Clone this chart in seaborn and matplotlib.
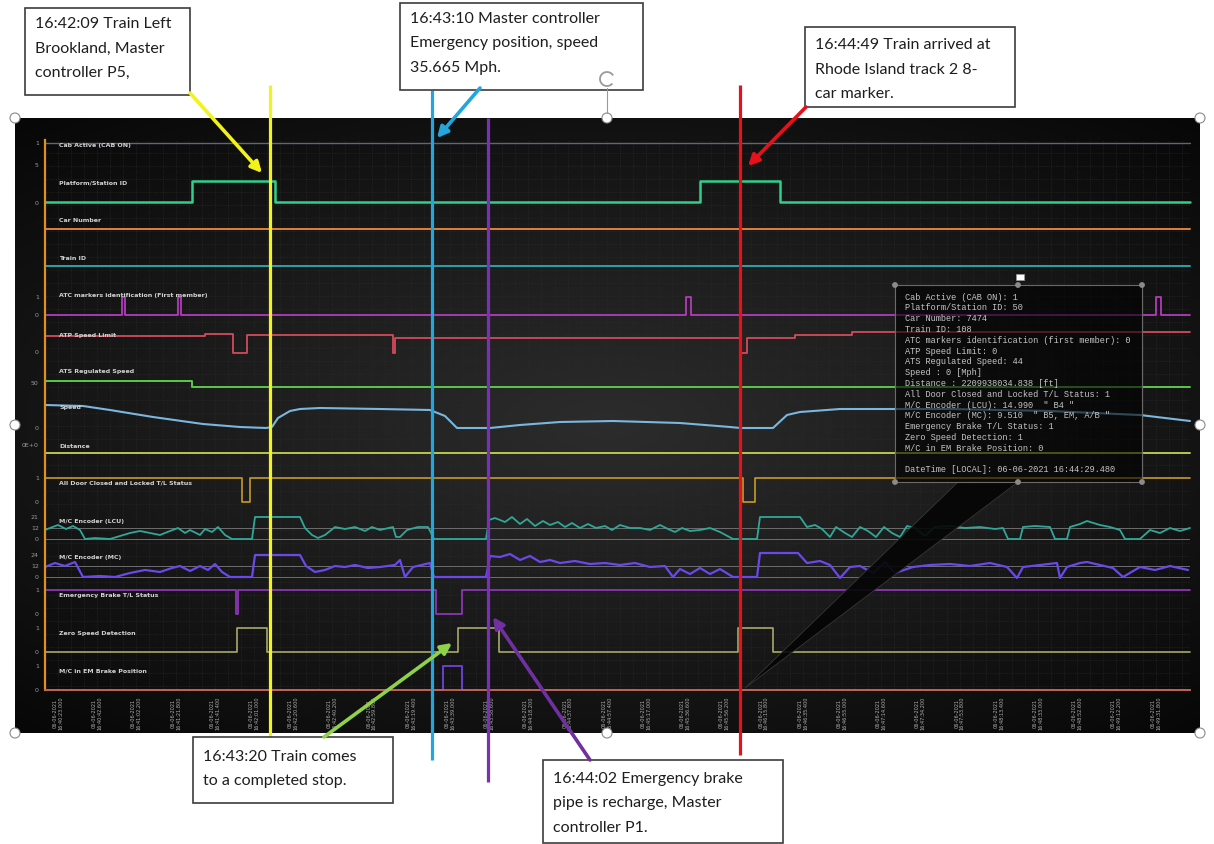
import datetime as dt
import numpy as np
import matplotlib
matplotlib.use('Agg')
import matplotlib.pyplot as plt
import matplotlib.transforms as mtransforms
from matplotlib.colors import LinearSegmentedColormap
from matplotlib.patches import Rectangle, Circle, Polygon, Arc
import seaborn as sns

# ---------------- data: time in seconds after 16:40:16.5 on 06-06-2021 ----------------
t_end = 572.5
start_clock = dt.datetime(2021, 6, 6, 16, 40, 16, 500000)

cab_active_t = [0, t_end]
cab_active_v = [1, 1]
platform_t = [0, 73.5, 115, 327.5, 367.5, t_end]
platform_v = [0, 50, 0, 50, 0, 0]
car_number_t = [0, t_end]
car_number_v = [7474, 7474]
train_id_t = [0, t_end]
train_id_v = [108, 108]
atc_t = [0, 38.5, 40, 66.5, 68, 320.5, 323, 555.5, 558, t_end]
atc_v = [0, 1, 0, 1, 0, 1, 0, 1, 0, 0]
atp_t = [0, 80, 94, 101, 174, 175, 347.5, 351, 375, 403.5, t_end]
atp_v = [45, 50, 0, 48, 0, 40, 0, 40, 48, 55, 55]
ats_t = [0, 73.5, t_end]
ats_v = [50, 44, 44]
speed_t = [0, 19, 32.5, 54, 79, 97.5, 110.5, 113.5, 116.5, 122.5, 127.5, 137.5, 167.5,
           192.5, 200, 206, 222.5, 237.5, 257.5, 284, 317.5, 342.5, 347.5, 364, 371,
           377.5, 397.5, 452.5, 502.5, 547.5, 572.5]
speed_v = [46, 44, 36, 22, 8, 2, 0, 2, 20, 34, 38, 40, 38,
           36, 24, 0, 0, 6, 12, 14, 10, 2, 0, 0, 26,
           32, 38, 38, 34, 26, 14]
distance_t = [0, t_end]
distance_v = [2209938034.8, 2209938034.8]
door_t = [0, 98.5, 102.5, 349, 355, t_end]
door_v = [1, 0, 1, 0, 1, 1]
lcu_t = [0, 2.5, 6.5, 10.5, 14, 17.5, 20, 25, 32.5, 37.5, 42.5, 47.5, 52.5, 57.5, 62.5,
         66.5, 70, 72.5, 77.5, 80, 83.5, 86.5, 90, 93.5, 103.5, 105, 127.5, 130, 133.5,
         136.5, 140, 145, 150, 155, 160, 163.5, 167.5, 174, 175.5, 177.5, 181, 186.5,
         191.5, 194.5, 220.5, 222, 225, 230, 233.5, 237.5, 241, 245, 249, 252.5, 256.5,
         260, 263.5, 267.5, 271.5, 275.5, 280, 283.5, 287.5, 292.5, 297.5, 302.5, 307.5,
         311.5, 315, 318.5, 322.5, 327.5, 332.5, 337.5, 344, 356, 357.5, 377.5, 381, 385,
         388.5, 392.5, 395.5, 400, 403.5, 407.5, 411.5, 415.5, 419.5, 423.5, 427.5, 431,
         435, 440, 445, 452.5, 460, 467.5, 475, 479, 481.5, 487.5, 489, 495, 502.5, 505,
         511, 512.5, 517.5, 521, 527.5, 532.5, 537.5, 540, 547.5, 552.5, 557.5, 562.5,
         567.5, 572.5]
lcu_v = [10, 12, 15, 11, 14, 10, 1, 2, 1, 4, 7, 9, 7, 5, 9,
         12, 7, 10, 5, 11, 8, 13, 5, 1, 1, 23, 23, 12, 5,
         2, 5, 13, 11, 13, 9, 13, 10, 13, 3, 3, 10, 13,
         13, 1, 1, 20, 22, 18, 23, 16, 21, 14, 19, 15, 18,
         13, 17, 12, 16, 12, 14, 10, 15, 12, 12, 10, 15,
         11, 8, 12, 9, 10, 12, 8, 1, 1, 23, 23, 13, 15,
         11, 3, 13, 7, 3, 13, 9, 3, 13, 7, 3, 14,
         12, 4, 13, 14, 12, 13, 11, 12, 1, 1, 13, 14, 13, 1,
         1, 13, 16, 19, 15, 13, 10, 1, 1, 10, 7, 12,
         9, 12]
mc_t = [0, 5, 10, 15, 19, 27.5, 35, 42.5, 50, 57.5, 63.5, 67.5, 72.5, 77.5, 81.5, 85,
        88.5, 92.5, 103.5, 105, 127.5, 130.5, 135, 140, 145, 150, 155, 161.5, 167.5, 175,
        177.5, 180, 184, 192.5, 194.5, 220.5, 222.5, 227.5, 232.5, 237.5, 242.5, 247.5,
        252.5, 257.5, 265, 272.5, 280, 287.5, 295, 302.5, 310, 314, 317.5, 322.5, 327.5,
        332.5, 337.5, 344, 356, 357.5, 376.5, 381, 387.5, 392.5, 397.5, 402.5, 407.5, 414,
        420, 425, 434, 442.5, 452.5, 462.5, 472.5, 481, 486, 489, 497.5, 506, 507.5, 511,
        517.5, 521, 527.5, 534, 539, 547.5, 555, 562.5, 571.5]
mc_v = [11, 15, 12, 16, 1, 2, 1, 5, 8, 6, 10, 12, 7, 12, 8, 14,
        6, 1, 1, 23, 23, 12, 6, 8, 12, 11, 13, 10, 11, 13,
        18, 1, 11, 15, 1, 1, 22, 21, 24, 18, 22, 16,
        18, 15, 17, 14, 15, 13, 15, 11, 12, 1, 9, 4, 10,
        4, 9, 1, 1, 25, 25, 15, 17, 13, 0, 11, 12, 5,
        16, 5, 11, 13, 14, 12, 15, 11, 0, 11, 13, 15, 0, 11,
        15, 16, 13, 10, 1, 11, 8, 12, 8]
eb_t = [0, 95.5, 96.5, 195.5, 208.5, t_end]
eb_v = [1, 0, 1, 0, 1, 1]
zero_t = [0, 96, 111, 206.5, 227, 346.5, 364, t_end]
zero_v = [0, 1, 0, 1, 0, 1, 0, 0]
em_t = [0, 199, 208.5, t_end]
em_v = [0, 1, 0, 0]

encoder_ref_lcu = [1, 12]
encoder_ref_mc = [1, 12]

track_names = ['Cab Active (CAB ON)', 'Platform/Station ID', 'Car Number', 'Train ID',
               'ATC markers identification (First member)', 'ATP Speed Limit',
               'ATS Regulated Speed', 'Speed', 'Distance',
               'All Door Closed and Locked T/L Status', 'M/C Encoder (LCU)',
               'M/C Encoder (MC)', 'Emergency Brake T/L Status', 'Zero Speed Detection',
               'M/C in EM Brake Position']

left_tick_labels = ['1', '5', '0', '1', '0', '0', '50', '0', '0E+0', '1', '0',
                    '21', '12', '0', '24', '12', '0', '1', '0', '1', '0', '1', '0']

# annotation events (time, text)
event_times = [112.5, 193.5, 221.5, 347.5]
event_texts = ['16:42:09 Train Left\nBrookland, Master\ncontroller P5,',
               '16:43:10 Master controller\nEmergency position, speed\n35.665 Mph.',
               '16:44:02 Emergency brake\npipe is recharge, Master\ncontroller P1.',
               '16:44:49 Train arrived at\nRhode Island track 2 8-\ncar marker.']
stop_text = '16:43:20 Train comes\nto a completed stop.'

tooltip_lines = ['Cab Active (CAB ON): 1', 'Platform/Station ID: 50', 'Car Number: 7474',
                 'Train ID: 108', 'ATC markers identification (first member): 0',
                 'ATP Speed Limit: 0', 'ATS Regulated Speed: 44', 'Speed : 0 [Mph]',
                 'Distance : 2209938034.838 [ft]',
                 'All Door Closed and Locked T/L Status: 1',
                 'M/C Encoder (LCU): 14.990  " B4 "',
                 'M/C Encoder (MC): 9.510  " B5, EM, A/B "',
                 'Emergency Brake T/L Status: 1', 'Zero Speed Detection: 1',
                 'M/C in EM Brake Position: 0', '',
                 'DateTime [LOCAL]: 06-06-2021 16:44:29.480']

# ---------------- figure ----------------
sns.set_theme(style='dark')
plt.rcParams['font.family'] = ['Lato', 'DejaVu Sans']

W, H = 1214, 844
fig = plt.figure(figsize=(W / 100, H / 100), dpi=100)
fig.patch.set_facecolor('white')


def box(x0, y0, x1, y1):
    return [x0 / W, 1 - y1 / H, (x1 - x0) / W, (y1 - y0) / H]


# dark panel with soft glow
bg = fig.add_axes(box(15, 118, 1200, 733), zorder=0)
yy, xx = np.mgrid[-1:1:200j, -1:1:300j]
glow = 1 - np.clip(np.sqrt(0.8 * xx ** 2 + yy ** 2), 0, 1.35) / 1.35
panel_cmap = LinearSegmentedColormap.from_list('panel', ['#070707', '#1a1a1a', '#2c2c2c'])
bg.imshow(glow, cmap=panel_cmap, aspect='auto', extent=[0, 1, 0, 1])
bg.set_axis_off()

ax = fig.add_axes(box(45, 140, 1190, 690), zorder=1)
ax.patch.set_alpha(0)

# track layout: data, baseline row, px per unit, reference value, colour, width, step
tracks = [
    (cab_active_t, cab_active_v, 143, 0, 1, '#566a7c', 1.0, True),
    (platform_t, platform_v, 202, 0.42, 0, '#2fd08c', 1.8, True),
    (car_number_t, car_number_v, 229, 0, 7474, '#e0823a', 1.4, True),
    (train_id_t, train_id_v, 266, 0, 108, '#2aa2aa', 1.4, True),
    (atc_t, atc_v, 315, 18, 0, '#b23cba', 1.3, True),
    (atp_t, atp_v, 353, 0.378, 0, '#d44a5a', 1.3, True),
    (ats_t, ats_v, 431, 1.0, 0, '#5ac84a', 1.4, True),
    (speed_t, speed_v, 428, 0.5, 0, '#7ab6de', 1.5, False),
    (distance_t, distance_v, 453, 0, distance_v[0], '#b9c84a', 1.4, True),
    (door_t, door_v, 502, 24, 0, '#c89a2a', 1.2, True),
    (lcu_t, lcu_v, 540, 1.0, 0, '#2fa898', 1.3, False),
    (mc_t, mc_v, 578, 1.0, 0, '#6a48ea', 1.6, False),
    (eb_t, eb_v, 614, 24, 0, '#8a36b4', 1.3, True),
    (zero_t, zero_v, 652, 24, 0, '#a8aa6a', 1.2, True),
    (em_t, em_v, 690, 24, 0, '#6a40d2', 1.4, True),
]
label_rows = [146, 183, 220, 258, 296, 335, 371, 407, 447, 483, 521, 558, 596, 634, 671]
left_tick_rows = [143, 165, 203, 297, 315, 352, 383, 428, 445, 478, 502,
                  517, 528, 539, 555, 566, 577, 590, 614, 628, 652, 666, 690]

for ref_v in encoder_ref_lcu:
    ax.axhline(540 - ref_v, color='#6e6e6e', lw=0.7, zorder=1.5)
for ref_v in encoder_ref_mc:
    ax.axhline(578 - ref_v, color='#6e6e6e', lw=0.7, zorder=1.5)

for t, v, base, scale, vref, color, lw, step in tracks:
    rows = base - scale * (np.asarray(v, float) - vref)
    sns.lineplot(x=np.asarray(t, float), y=rows, ax=ax, color=color, linewidth=lw,
                 estimator=None, sort=False,
                 drawstyle='steps-post' if step else 'default', zorder=2, clip_on=False)

ax.set_xlim(0, t_end)
ax.set_ylim(690, 140)

tick_step = 19.6
tick_t = np.arange(6.5, t_end, tick_step)
tick_labels = [(start_clock + dt.timedelta(seconds=float(s))).strftime('%d-%m-%Y\n%H:%M:%S.%f')[:-3]
               for s in tick_t]
ax.set_xticks(tick_t, tick_labels, rotation=90, fontsize=3.6, color='#b0b0b0',
              family='DejaVu Sans')
minor_t = np.arange(6.5 - tick_step, t_end, tick_step / 3)
ax.set_xticks(minor_t[minor_t >= 0], minor=True)
ax.set_yticks(left_tick_rows, left_tick_labels, fontsize=4.5, color='#9a9a9a',
              family='DejaVu Sans')
ax.set_yticks(np.arange(153, 690, 13), minor=True)
ax.tick_params(axis='x', which='both', direction='inout', length=3, width=0.6,
               color='#d9b4a4', pad=3)
ax.tick_params(axis='y', which='major', direction='out', length=3, width=0.8,
               color='#e0901e', pad=1.5)
ax.tick_params(axis='y', which='minor', length=0)
ax.grid(False)
ax.xaxis.grid(True, which='both', color='#2b2b2b', lw=0.5, ls=(0, (1, 1.5)))
ax.yaxis.grid(True, which='minor', color='#2b2b2b', lw=0.5, ls=(0, (1, 1.5)))
ax.set_xlabel('')
ax.set_ylabel('')
for side in ['top', 'right']:
    ax.spines[side].set_visible(False)
ax.spines['left'].set_color('#e0901e')
ax.spines['left'].set_linewidth(1.6)
ax.spines['bottom'].set_color('#c8644a')
ax.spines['bottom'].set_linewidth(1.3)

# ---------------- overlay: labels, tooltip, annotations ----------------
ov = fig.add_axes([0, 0, 1, 1], zorder=3)
ov.patch.set_alpha(0)
ov.set_xlim(0, W)
ov.set_ylim(H, 0)
ov.set_axis_off()

for name, row in zip(track_names, label_rows):
    ov.text(59, row, name, fontsize=4.5, fontweight='bold', color='#d2d2d2',
            va='center', ha='left', family='DejaVu Sans')

# tooltip
ov.add_patch(Polygon([(958, 482), (1018, 482), (745, 688)], closed=True,
                     facecolor='#050505', edgecolor='#3a3a3a', lw=0.6, alpha=0.9, zorder=4))
ov.add_patch(Rectangle((895, 285), 247, 197, facecolor='#000000', alpha=0.6,
                       edgecolor='none', zorder=4))
ov.add_patch(Rectangle((895, 285), 247, 197, facecolor='none', edgecolor='#6a6a6a',
                       lw=0.8, zorder=4))
for i, line in enumerate(tooltip_lines):
    ov.text(905, 297 + i * 10.8, line, fontsize=6.2, color='#c4c4c4', va='center',
            ha='left', family='Liberation Mono', zorder=5)
for hx in [895, 1018, 1142]:
    for hy in [285, 482]:
        ov.add_patch(Circle((hx, hy), 2.2, color='#8a8a8a', zorder=5))
ov.add_patch(Rectangle((1016, 274), 8, 6, facecolor='white', edgecolor='#999999',
                       lw=0.5, zorder=5))

# event verticals
blend = mtransforms.blended_transform_factory(ax.transData, ov.transData)
event_colors = ['#f2f21c', '#22a6dc', '#7b2fb5', '#e8101a']
event_spans = [(85, 738), (90, 760), (118, 782), (85, 755)]
for et, c, (y0, y1) in zip(event_times, event_colors, event_spans):
    ov.plot([et, et], [y0, y1], color=c, lw=2.3, transform=blend, zorder=6,
            solid_capstyle='butt')

# callout boxes
callouts = [
    ((25, 8, 190, 95), event_texts[0], (35, 24)),
    ((400, 3, 643, 90), event_texts[1], (410, 19)),
    ((543, 760, 783, 843), event_texts[2], (553, 779)),
    ((805, 27, 1015, 107), event_texts[3], (815, 45)),
    ((193, 737, 393, 803), stop_text, (203, 757)),
]
for (x0, y0, x1, y1), txt, (tx, ty) in callouts:
    ov.add_patch(Rectangle((x0, y0), x1 - x0, y1 - y0, facecolor='white',
                           edgecolor='#3c3c3c', lw=1.2, zorder=7))
    for j, line in enumerate(txt.split('\n')):
        ov.text(tx, ty + j * 24.5, line, fontsize=11.5, color='#1e1e1e', va='center',
                ha='left', zorder=8)

arrows = [((190, 93), (262, 173), '#f2f21c'),
          ((480, 88), (437, 138), '#22a6dc'),
          ((806, 107), (748, 166), '#e8101a'),
          ((324, 737), (452, 643), '#8fd24a'),
          ((590, 760), (493, 617), '#7030a0')]
for tail, tip, c in arrows:
    ov.annotate('', xy=tip, xytext=tail,
                arrowprops=dict(arrowstyle='-|>', color=c, lw=2.6, mutation_scale=16,
                                shrinkA=0, shrinkB=0), zorder=7)

# selection handles
for hx, hy in [(15, 118), (607, 118), (1200, 118), (15, 425), (1200, 425),
               (15, 733), (607, 733), (1200, 733)]:
    ov.add_patch(Circle((hx, hy), 5, facecolor='white', edgecolor='#8a8a8a',
                        lw=0.8, zorder=9))
ov.plot([607, 607], [88, 113], color='#9a9a9a', lw=0.8, zorder=9)
ov.add_patch(Arc((607, 79), 14, 14, theta1=40, theta2=330, color='#9a9a9a', lw=1.3,
                 zorder=9))

fig.savefig('out.png', dpi=100)
